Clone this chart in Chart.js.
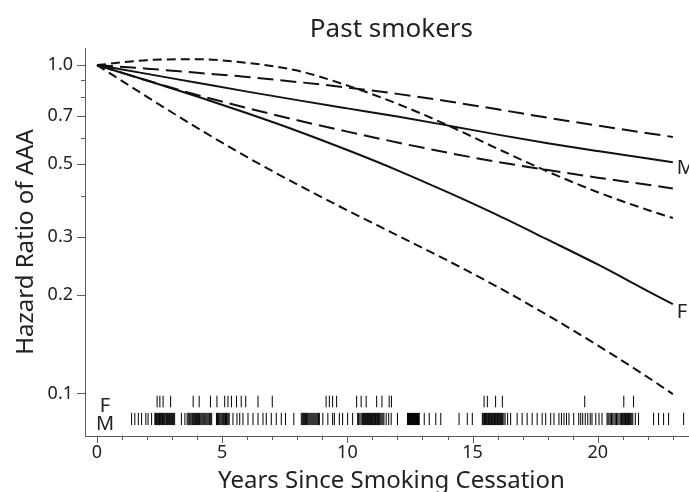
<!DOCTYPE html>
<html>
<head>
<meta charset="utf-8">
<title>Past smokers</title>
<script src="https://cdn.jsdelivr.net/npm/chart.js@4/dist/chart.umd.min.js"></script>
<style>
  html, body { margin: 0; padding: 0; overflow: hidden; background: #fff; }
  canvas { display: block; }
</style>
</head>
<body>
<canvas id="chart" width="705" height="500"></canvas>
<script>
// Years since smoking cessation at which the fitted curves are given
const years = [0, 2, 4, 6, 8, 10, 12, 14, 16, 18, 20, 22, 23];

// Men (M): fitted hazard ratio with lower / upper confidence limits
const mFit   = [1.00, 0.940, 0.883, 0.830, 0.782, 0.738, 0.697, 0.655, 0.614, 0.578, 0.547, 0.519, 0.506];
const mUpper = [1.00, 0.975, 0.947, 0.920, 0.888, 0.854, 0.817, 0.776, 0.733, 0.691, 0.654, 0.620, 0.604];
const mLower = [1.00, 0.897, 0.811, 0.740, 0.679, 0.627, 0.581, 0.541, 0.507, 0.479, 0.454, 0.432, 0.421];

// Women (F): fitted hazard ratio with lower / upper confidence limits
const fFit   = [1.00, 0.897, 0.802, 0.713, 0.630, 0.551, 0.478, 0.410, 0.349, 0.294, 0.247, 0.205, 0.187];
const fUpper = [1.00, 1.035, 1.042, 1.015, 0.962, 0.866, 0.762, 0.656, 0.556, 0.474, 0.410, 0.362, 0.342];
const fLower = [1.00, 0.800, 0.644, 0.524, 0.433, 0.361, 0.303, 0.254, 0.211, 0.173, 0.140, 0.112, 0.0995];

// Observed years since cessation of individual cases (rug marks)
const fRug = [2.40, 2.51, 2.64, 2.94, 3.84, 4.08, 4.53, 4.79, 5.10, 5.23, 5.37, 5.57, 5.76, 5.94,
  6.43, 7.00, 9.15, 9.28, 9.41, 9.57, 10.37, 10.55, 10.75, 11.17, 11.38, 11.67, 11.76,
  15.46, 15.59, 15.92, 16.19, 19.48, 21.04, 21.43];
const mRug = [1.38, 1.51, 1.65, 1.78, 1.95, 2.04, 2.18,
  2.31, 2.34, 2.38, 2.41, 2.45, 2.48, 2.50, 2.53, 2.56, 2.59, 2.62, 2.65, 2.68, 2.71, 2.75, 2.78,
  2.82, 2.86, 2.90, 2.94, 2.98, 3.01, 3.05, 3.10, 3.37, 3.51,
  3.60, 3.64, 3.68, 3.71, 3.75, 3.79, 3.82, 3.86, 3.90, 3.93, 3.97, 4.01, 4.05, 4.09, 4.12, 4.16,
  4.20, 4.24, 4.28, 4.31, 4.35, 4.39, 4.43, 4.47, 4.50, 4.54, 4.58,
  4.77, 4.81, 4.85, 4.88, 4.92, 4.96, 5.00, 5.03, 5.06, 5.10, 5.13, 5.17, 5.20, 5.24, 5.28,
  5.43, 5.59, 5.70, 5.83, 6.03, 6.23, 6.43, 6.63, 6.76, 6.96, 7.16, 7.36, 7.53, 7.86,
  8.16, 8.20, 8.24, 8.27, 8.30, 8.33, 8.36, 8.39, 8.42, 8.46, 8.50, 8.54, 8.58, 8.62, 8.66, 8.70,
  8.74, 8.78, 8.82, 8.85, 8.88, 9.02, 9.22, 9.41, 9.48, 9.68, 9.81, 10.01, 10.21,
  10.41, 10.45, 10.50, 10.55, 10.60, 10.64, 10.68, 10.72, 10.76, 10.80, 10.84, 10.88, 10.92,
  10.96, 11.00, 11.03, 11.06, 11.09, 11.12, 11.15, 11.18, 11.21, 11.24, 11.27, 11.30, 11.34,
  11.38, 11.42, 11.46, 11.55, 11.65, 11.75, 12.00,
  12.40, 12.44, 12.48, 12.52, 12.56, 12.60, 12.64, 12.68, 12.72, 12.76, 12.80, 12.84, 12.87,
  13.07, 13.27, 13.53, 13.73, 14.46, 14.79, 14.99,
  15.39, 15.42, 15.45, 15.48, 15.52, 15.55, 15.58, 15.61, 15.64, 15.67, 15.70, 15.73, 15.76,
  15.79, 15.82, 15.85, 15.88, 15.91, 15.94, 15.97, 16.00, 16.03, 16.06, 16.09, 16.12, 16.16,
  16.20, 16.25, 16.30, 16.40, 16.52, 16.78, 16.98, 17.18, 17.38, 17.58, 17.78, 17.92, 18.12,
  18.25, 18.45, 18.55, 18.65, 18.75, 18.85, 19.04, 19.24, 19.32, 19.40, 19.50, 19.60, 19.70,
  19.77, 19.92, 20.05, 20.17,
  20.37, 20.41, 20.45, 20.50, 20.55, 20.60, 20.65, 20.70, 20.75, 20.80, 20.85, 20.90, 20.95,
  20.98, 21.02, 21.05, 21.08, 21.11, 21.14, 21.17, 21.20, 21.23, 21.26, 21.29, 21.32, 21.36,
  21.40, 21.50, 21.63, 22.23, 22.43, 22.63, 22.83, 23.43];

// Axis ticks
const yTickValues = [0.1, 0.2, 0.3, 0.5, 0.7, 1.0];
const yMinorTicks = [0.4, 0.6, 0.8, 0.9];
const xTickValues = [0, 5, 10, 15, 20];
const xMinorTicks = [1, 2, 3, 4, 6, 7, 8, 9, 11, 12, 13, 14, 16, 17, 18, 19, 21, 22, 23, 24];

const FONT = '"Noto Sans", "Open Sans", sans-serif';
const TEXT = '#222';
const AXIS = '#5a5a5a';
const INK = '#111';
const LONG_DASH = [16, 7];
const SHORT_DASH = [9, 5];
const F_ROW = 0.0945;   // hazard-ratio level of the F rug row
const M_ROW = 0.0836;   // hazard-ratio level of the M rug row

Chart.defaults.font.family = FONT;
Chart.defaults.color = TEXT;

const curve = (vals, dash) => ({
  data: years.map((t, i) => ({ x: t, y: vals[i] })),
  borderColor: INK,
  borderWidth: 2,
  borderDash: dash,
  borderCapStyle: 'butt',
  pointRadius: 0,
  pointHoverRadius: 0,
  cubicInterpolationMode: 'monotone',
  fill: false
});

const rug = (vals, level, r) => ({
  data: vals.map(t => ({ x: t, y: level })),
  showLine: false,
  pointStyle: 'line',
  pointRotation: 90,
  pointRadius: r,
  pointHoverRadius: r,
  pointBorderWidth: 1,
  pointBorderColor: '#000',
  pointBackgroundColor: '#000',
  pointHitRadius: 0
});

// Short tick marks on both axes (longer at labelled values)
const axisTicks = {
  id: 'axisTicks',
  afterDraw(chart) {
    const { ctx, chartArea, scales: { x, y } } = chart;
    ctx.save();
    ctx.strokeStyle = AXIS;
    ctx.lineWidth = 1;
    ctx.beginPath();
    const xt = (v, len) => {
      const px = Math.round(x.getPixelForValue(v)) + 0.5;
      ctx.moveTo(px, chartArea.bottom);
      ctx.lineTo(px, chartArea.bottom + len);
    };
    const yt = (v, len) => {
      const py = Math.round(y.getPixelForValue(v)) + 0.5;
      ctx.moveTo(chartArea.left, py);
      ctx.lineTo(chartArea.left - len, py);
    };
    xTickValues.forEach(v => xt(v, 7));
    xMinorTicks.forEach(v => xt(v, 4));
    yTickValues.forEach(v => yt(v, 8));
    yMinorTicks.forEach(v => yt(v, 4));
    ctx.stroke();
    ctx.restore();
  }
};

// Group letters at the curve ends and beside the rug rows
const groupLabels = {
  id: 'groupLabels',
  afterDatasetsDraw(chart) {
    const { ctx, scales: { x, y } } = chart;
    const last = years.length - 1;
    const endX = x.getPixelForValue(years[last]) + 4;
    ctx.save();
    ctx.font = '20px ' + FONT;
    ctx.fillStyle = TEXT;
    ctx.textBaseline = 'alphabetic';
    ctx.textAlign = 'left';
    ctx.fillText('M', endX, y.getPixelForValue(mFit[last]) + 12);
    ctx.fillText('F', endX, y.getPixelForValue(fFit[last]) + 14);
    ctx.textAlign = 'center';
    const rx = x.getPixelForValue(0.32);
    ctx.fillText('F', rx, y.getPixelForValue(F_ROW) + 10.5);
    ctx.fillText('M', rx, y.getPixelForValue(M_ROW) + 11);
    ctx.restore();
  }
};

new Chart(document.getElementById('chart'), {
  type: 'line',
  data: {
    datasets: [
      curve(mUpper, LONG_DASH),
      curve(mFit, []),
      curve(mLower, LONG_DASH),
      curve(fUpper, SHORT_DASH),
      curve(fFit, []),
      curve(fLower, SHORT_DASH),
      rug(fRug, F_ROW, 5.8),
      rug(mRug, M_ROW, 6.1)
    ]
  },
  options: {
    responsive: false,
    animation: false,
    devicePixelRatio: 1,
    layout: { padding: { left: 0, right: 6, top: 0, bottom: 0 } },
    plugins: {
      legend: { display: false },
      tooltip: { enabled: false },
      title: {
        display: true,
        text: 'Past smokers',
        fullSize: false,
        color: TEXT,
        font: { size: 26, weight: 'normal', family: FONT },
        padding: { top: 14, bottom: 2.8 }
      }
    },
    scales: {
      x: {
        type: 'linear',
        min: -0.48,
        max: 24,
        grid: { display: false, drawTicks: false },
        border: { display: true, color: AXIS, width: 1 },
        ticks: {
          padding: 6,
          color: TEXT,
          font: { size: 18 },
          callback: v => String(v)
        },
        afterBuildTicks: s => { s.ticks = xTickValues.map(v => ({ value: v })); },
        afterFit: s => { s.height = 64; },
        title: {
          display: true,
          text: 'Years Since Smoking Cessation',
          color: TEXT,
          font: { size: 24 },
          padding: { top: 0, bottom: 4.6 }
        }
      },
      y: {
        type: 'logarithmic',
        min: 0.0742,
        max: 1.127,
        grid: { display: false, drawTicks: false },
        border: { display: true, color: AXIS, width: 1 },
        ticks: {
          padding: 12,
          color: TEXT,
          font: { size: 18 },
          callback: v => Number(v).toFixed(1)
        },
        afterBuildTicks: s => { s.ticks = yTickValues.map(v => ({ value: v })); },
        afterFit: s => { s.width = 85; },
        title: {
          display: true,
          text: 'Hazard Ratio of AAA',
          color: TEXT,
          font: { size: 24 },
          padding: { top: 11.3, bottom: 0 }
        }
      }
    }
  },
  plugins: [axisTicks, groupLabels]
});
</script>
</body>
</html>
